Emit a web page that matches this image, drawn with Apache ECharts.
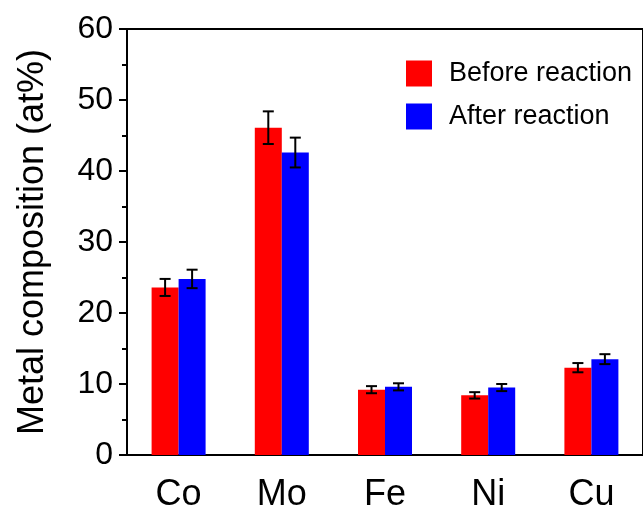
<!DOCTYPE html>
<html>
<head>
<meta charset="utf-8">
<script src="https://cdn.jsdelivr.net/npm/echarts@6/dist/echarts.min.js"></script>
<style>
  html, body { margin: 0; padding: 0; background: #fff; }
  #chart { width: 643px; height: 514px; }
</style>
</head>
<body>
<div id="chart"></div>
<script>
// Metal composition of the catalyst before and after reaction (at%)
const metals = ['Co', 'Mo', 'Fe', 'Ni', 'Cu'];
const beforeValues = [23.6, 46.1, 9.2, 8.4, 12.3];
const beforeErrors = [1.2, 2.3, 0.5, 0.45, 0.65];
const afterValues = [24.8, 42.6, 9.6, 9.5, 13.5];
const afterErrors = [1.3, 2.1, 0.5, 0.5, 0.7];
const seriesNames = ['Before reaction', 'After reaction'];
const yTicks = { min: 0, max: 60, interval: 10 };

const FONT = 'Liberation Sans, Arial, sans-serif';
const BAR_W = 27;

// Error-bar renderer: vertical whisker with caps, shifted onto its bar
function errorBarRenderer(side) {
  return function (params, api) {
    const idx = api.value(0);
    const val = api.value(1);
    const err = api.value(2);
    const hi = api.coord([idx, val + err]);
    const lo = api.coord([idx, val - err]);
    const x = hi[0] + side * BAR_W / 2;
    const cap = 5.5;
    const style = { stroke: '#000', lineWidth: 2 };
    return {
      type: 'group',
      children: [
        { type: 'line', shape: { x1: x, y1: hi[1], x2: x, y2: lo[1] }, style },
        { type: 'line', shape: { x1: x - cap, y1: hi[1], x2: x + cap, y2: hi[1] }, style },
        { type: 'line', shape: { x1: x - cap, y1: lo[1], x2: x + cap, y2: lo[1] }, style }
      ]
    };
  };
}

const chart = echarts.init(document.getElementById('chart'), null, { renderer: 'canvas' });

chart.setOption({
  animation: false,
  backgroundColor: '#fff',
  textStyle: { fontFamily: FONT },
  grid: {
    left: 127, top: 29, width: 521.5, bottom: 59,
    show: true, borderColor: '#000', borderWidth: 2, backgroundColor: 'transparent'
  },
  legend: {
    orient: 'vertical',
    left: 406, top: 60,
    padding: 0,
    itemWidth: 26, itemHeight: 26, itemGap: 16,
    icon: 'rect',
    data: seriesNames,
    textStyle: { fontFamily: FONT, fontSize: 27, color: '#000', padding: [0, 0, 0, 12] }
  },
  xAxis: [
    {
      type: 'category',
      data: metals,
      axisLine: { lineStyle: { color: '#000', width: 2 } },
      axisTick: { alignWithLabel: true, length: 10, lineStyle: { color: '#000', width: 2 } },
      axisLabel: { color: '#000', fontSize: 36, fontFamily: FONT, margin: 22 },
      splitLine: { show: false }
    },
    {
      // boundary ticks between categories
      type: 'category',
      data: metals,
      position: 'bottom',
      axisLine: { show: false },
      axisTick: { length: 6, lineStyle: { color: '#000', width: 2 } },
      axisLabel: { show: false },
      splitLine: { show: false }
    }
  ],
  yAxis: {
    type: 'value',
    min: yTicks.min, max: yTicks.max, interval: yTicks.interval,
    name: 'Metal composition (at%)',
    nameLocation: 'middle',
    nameGap: 76,
    nameTextStyle: { color: '#000', fontSize: 36, fontFamily: FONT },
    axisLine: { show: true, lineStyle: { color: '#000', width: 2 } },
    axisTick: { show: true, length: 8, lineStyle: { color: '#000', width: 2 } },
    minorTick: { show: true, splitNumber: 2, length: 5, lineStyle: { color: '#000', width: 2 } },
    axisLabel: { color: '#000', fontSize: 32, fontFamily: FONT, margin: 14 },
    splitLine: { show: false }
  },
  series: [
    {
      name: seriesNames[0], type: 'bar', barWidth: BAR_W, barGap: '0%',
      itemStyle: { color: '#ff0000' },
      data: beforeValues
    },
    {
      name: seriesNames[1], type: 'bar', barWidth: BAR_W, barGap: '0%',
      itemStyle: { color: '#0000ff' },
      data: afterValues
    },
    {
      type: 'custom', z: 10,
      renderItem: errorBarRenderer(-1),
      data: beforeValues.map((v, i) => [i, v, beforeErrors[i]])
    },
    {
      type: 'custom', z: 10,
      renderItem: errorBarRenderer(1),
      data: afterValues.map((v, i) => [i, v, afterErrors[i]])
    }
  ]
});
</script>
</body>
</html>
